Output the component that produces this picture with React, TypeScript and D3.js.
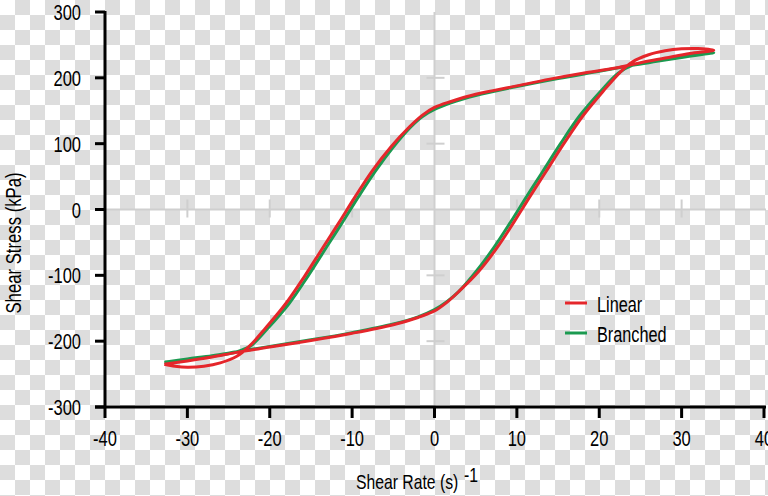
import React from "react";
import * as d3 from "d3";

// ---- data (loop traced from left tip: lower line -> rising branch -> upper line -> falling branch) ----
const linearRate = [
  -32.8, -30, -27, -24, -20, -15, -10, -5, -2, 0,
  1.5, 3, 5.3, 7.6, 9.7, 11.6, 13.5, 15.7, 18, 20.5, 22.5, 24, 26, 28, 30, 32, 33.9,
  31, 28, 25, 22, 18, 14, 9.7, 5, 2, 0,
  -1.5, -3, -5.3, -7.6, -9.7, -11.6, -13.5, -15.7, -18, -20.5, -22.5, -24, -26, -28, -30, -31.5, -32.8,
];
const linearStress = [
  -235, -230, -224, -217, -209, -199, -188, -175, -164, -154,
  -141, -124, -95, -58, -18, 20, 57, 100, 142, 180, 208, 224, 235, 241, 244, 244.5, 242,
  237, 230, 223, 215, 207, 198, 187, 175, 164, 155,
  143, 126, 95, 58, 18, -20, -57, -100, -142, -180, -208, -223, -233, -238, -239.5, -238, -235,
];
const branchedRate = [
  -32.8, -30, -27, -24, -20, -15, -10, -5, -2, 0,
  1.5, 3, 5.0, 7.2, 9.3, 11.2, 13.1, 15.3, 17.6, 20.2, 22.3, 24, 27, 30, 33.9,
  30, 27, 24, 20, 15, 9.7, 5, 2, 0,
  -1.5, -3, -5.0, -7.2, -9.3, -11.2, -13.1, -15.3, -17.6, -20.2, -22.3, -24, -27, -30, -32.8,
];
const branchedStress = [
  -232, -227, -222, -216, -208, -198, -187, -174, -163, -152,
  -140, -124, -95, -58, -18, 20, 57, 100, 142, 180, 207, 219, 226, 232, 238,
  231, 225, 219, 210, 199, 186, 173, 162, 152,
  141, 124, 95, 58, 18, -20, -57, -100, -142, -180, -207, -216, -223, -228, -232,
];

const xTicks = [-40, -30, -20, -10, 0, 10, 20, 30, 40];
const yTicks = [-300, -200, -100, 0, 100, 200, 300];
const innerXTicks = [-30, -20, -10, 10, 20, 30];
const innerYTicks = [-200, -100, 100, 200];
const seriesNames = ["Linear", "Branched"];
const seriesColors = ["#e5262b", "#1b9a50"];

const W = 768;
const H = 496;
const FONT = "'Liberation Sans', Arial, sans-serif";

function NText(props: {
  x: number;
  y: number;
  size: number;
  sx?: number;
  anchor?: "start" | "middle" | "end";
  rotate?: number;
  children: React.ReactNode;
}) {
  const { x, y, size, sx = 0.75, anchor = "start", rotate = 0, children } = props;
  const t = rotate
    ? `translate(${x},${y}) rotate(${rotate}) scale(${sx},1)`
    : `translate(${x},${y}) scale(${sx},1)`;
  return (
    <text transform={t} textAnchor={anchor} fontSize={size} fill="#000" fontFamily={FONT}>
      {children}
    </text>
  );
}

export default function App() {
  const x = d3.scaleLinear().domain([-40, 40]).range([105, 764]);
  const y = d3.scaleLinear().domain([-300, 300]).range([407, 12]);

  const line = d3
    .line<[number, number]>()
    .x((d) => x(d[0]))
    .y((d) => y(d[1]))
    .curve(d3.curveCatmullRom.alpha(0.5));

  const linearPts = linearRate.map((r, i) => [r, linearStress[i]] as [number, number]);
  const branchedPts = branchedRate.map((r, i) => [r, branchedStress[i]] as [number, number]);

  const grid = "#cfcfcf";

  return (
    <svg width={W} height={H} style={{ position: "absolute", left: 0, top: 0, display: "block" }}>
      <defs>
        <pattern id="checker" width={30} height={30} patternUnits="userSpaceOnUse">
          <rect width={30} height={30} fill="#ffffff" />
          <rect x={15} y={0} width={15} height={15} fill="#dddddd" />
          <rect x={0} y={15} width={15} height={15} fill="#dddddd" />
        </pattern>
      </defs>
      <rect width={W} height={H} fill="url(#checker)" />

      {/* faint inner axes */}
      <line x1={x(-40)} x2={766} y1={y(0)} y2={y(0)} stroke={grid} strokeWidth={2} />
      <line x1={x(0)} x2={x(0)} y1={y(300)} y2={y(-300)} stroke={grid} strokeWidth={2} />
      {innerXTicks.map((t) => (
        <line key={"ix" + t} x1={x(t)} x2={x(t)} y1={y(0) - 10} y2={y(0) + 8} stroke={grid} strokeWidth={2} />
      ))}
      {innerYTicks.map((t) => (
        <line key={"iy" + t} x1={x(0) - 8} x2={x(0) + 10} y1={y(t)} y2={y(t)} stroke={grid} strokeWidth={2} />
      ))}

      {/* curves */}
      <path d={line(branchedPts) || ""} fill="none" stroke={seriesColors[1]} strokeWidth={3} strokeLinejoin="round" />
      <path d={line(linearPts) || ""} fill="none" stroke={seriesColors[0]} strokeWidth={3} strokeLinejoin="round" />

      {/* main axes */}
      <line x1={x(-40)} x2={x(-40)} y1={y(300) - 1} y2={y(-300) + 1} stroke="#000" strokeWidth={3} />
      <line x1={95} x2={766} y1={y(-300)} y2={y(-300)} stroke="#000" strokeWidth={3} />
      {yTicks.map((t) => (
        <g key={"y" + t}>
          <line x1={95} x2={x(-40)} y1={y(t)} y2={y(t)} stroke="#000" strokeWidth={3} />
          <NText x={81} y={y(t) + 8} size={22} anchor="end">
            {t}
          </NText>
        </g>
      ))}
      {xTicks.map((t) => (
        <g key={"x" + t}>
          <line x1={x(t)} x2={x(t)} y1={y(-300)} y2={y(-300) + 11} stroke="#000" strokeWidth={3} />
          <NText x={x(t)} y={446} size={22} anchor="middle">
            {t}
          </NText>
        </g>
      ))}

      {/* axis titles */}
      <NText x={356} y={489} size={21}>
        Shear Rate (s)
      </NText>
      <NText x={464} y={482} size={21}>
        -1
      </NText>
      <NText x={21} y={243} size={22} sx={0.76} anchor="middle" rotate={-90}>
        Shear Stress (kPa)
      </NText>

      {/* legend */}
      {seriesNames.map((n, i) => (
        <g key={n}>
          <line x1={565} x2={587} y1={303 + i * 30} y2={303 + i * 30} stroke={seriesColors[i]} strokeWidth={3} />
          <NText x={597} y={312 + i * 30} size={22} sx={0.74}>
            {n}
          </NText>
        </g>
      ))}
    </svg>
  );
}
